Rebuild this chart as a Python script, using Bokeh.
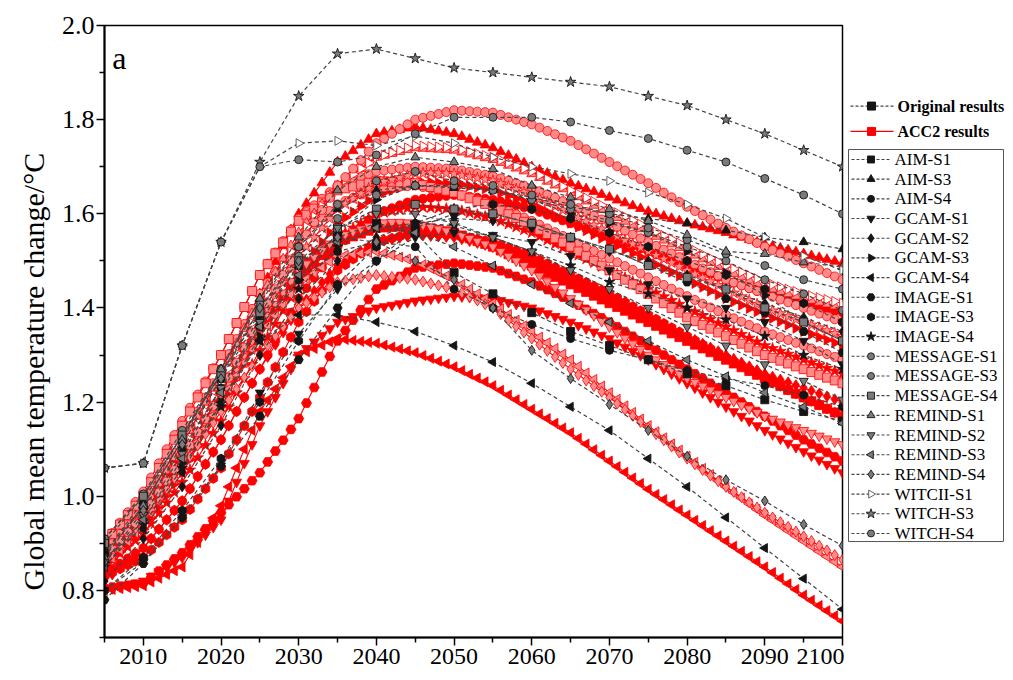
import math
from bokeh.plotting import figure
from bokeh.layouts import row
from bokeh.core.properties import value
from bokeh.models import Label, Title, FixedTicker, PrintfTickFormatter, Range1d
from bokeh.embed import file_html
from bokeh.resources import INLINE

YEARS_5 = list(range(2005, 2101, 5))
YEARS_1 = list(range(2005, 2101))

SCENARIOS = ["AIM-S1", "AIM-S3", "AIM-S4", "GCAM-S1", "GCAM-S2", "GCAM-S3", "GCAM-S4",
             "IMAGE-S1", "IMAGE-S3", "IMAGE-S4", "MESSAGE-S1", "MESSAGE-S3", "MESSAGE-S4",
             "REMIND-S1", "REMIND-S2", "REMIND-S3", "REMIND-S4", "WITCII-S1", "WITCH-S3", "WITCH-S4"]

# ---- Original results (every 5 years, 2005-2100) ----
O_AIM_S1 = [0.88, 0.98, 1.12, 1.25, 1.38, 1.49, 1.55, 1.58, 1.56, 1.475, 1.43, 1.39, 1.35, 1.32, 1.29, 1.26, 1.235, 1.205, 1.18, 1.16]
O_AIM_S3 = [0.88, 0.99, 1.13, 1.27, 1.42, 1.53, 1.61, 1.65, 1.66, 1.655, 1.65, 1.635, 1.615, 1.60, 1.59, 1.58, 1.565, 1.55, 1.54, 1.525]
O_AIM_S4 = [0.875, 0.975, 1.10, 1.23, 1.36, 1.46, 1.52, 1.54, 1.53, 1.44, 1.40, 1.365, 1.335, 1.31, 1.29, 1.267, 1.25, 1.235, 1.215, 1.19]
O_GCAM_S1 = [0.80, 0.86, 0.955, 1.065, 1.22, 1.345, 1.44, 1.50, 1.55, 1.56, 1.555, 1.54, 1.51, 1.48, 1.45, 1.42, 1.40, 1.37, 1.33, 1.28]
O_GCAM_S2 = [0.82, 0.91, 1.02, 1.15, 1.30, 1.42, 1.50, 1.55, 1.58, 1.59, 1.585, 1.57, 1.55, 1.52, 1.50, 1.47, 1.44, 1.41, 1.38, 1.35]
O_GCAM_S3 = [0.86, 0.95, 1.07, 1.20, 1.34, 1.46, 1.56, 1.63, 1.66, 1.66, 1.65, 1.63, 1.60, 1.58, 1.56, 1.52, 1.475, 1.427, 1.37, 1.33]
O_GCAM_S4 = [0.87, 0.93, 1.05, 1.20, 1.33, 1.385, 1.385, 1.37, 1.35, 1.32, 1.285, 1.24, 1.19, 1.14, 1.08, 1.02, 0.955, 0.89, 0.825, 0.76]
O_IMAGE_S1 = [0.78, 0.857, 0.955, 1.064, 1.17, 1.29, 1.40, 1.50, 1.57, 1.60, 1.60, 1.58, 1.55, 1.525, 1.49, 1.455, 1.42, 1.39, 1.35, 1.305]
O_IMAGE_S3 = [0.80, 0.87, 0.97, 1.08, 1.20, 1.33, 1.45, 1.53, 1.58, 1.61, 1.62, 1.61, 1.59, 1.56, 1.53, 1.50, 1.47, 1.44, 1.41, 1.37]
O_IMAGE_S4 = [0.85, 0.94, 1.06, 1.19, 1.33, 1.44, 1.53, 1.57, 1.58, 1.575, 1.55, 1.52, 1.49, 1.455, 1.43, 1.40, 1.375, 1.34, 1.30, 1.27]
O_MESSAGE_S1 = [0.91, 1.00, 1.13, 1.26, 1.40, 1.51, 1.59, 1.64, 1.66, 1.66, 1.65, 1.63, 1.61, 1.585, 1.56, 1.53, 1.50, 1.46, 1.43, 1.395]
O_MESSAGE_S3 = [0.91, 1.005, 1.14, 1.27, 1.41, 1.53, 1.62, 1.67, 1.69, 1.67, 1.66, 1.64, 1.62, 1.60, 1.57, 1.545, 1.515, 1.49, 1.46, 1.44]
O_MESSAGE_S4 = [0.90, 1.00, 1.13, 1.26, 1.39, 1.50, 1.57, 1.61, 1.62, 1.61, 1.60, 1.58, 1.55, 1.525, 1.49, 1.465, 1.44, 1.40, 1.37, 1.33]
O_REMIND_S1 = [0.87, 0.98, 1.12, 1.27, 1.42, 1.55, 1.65, 1.70, 1.72, 1.71, 1.695, 1.66, 1.635, 1.61, 1.585, 1.555, 1.52, 1.515, 1.497, 1.487]
O_REMIND_S2 = [0.86, 0.96, 1.09, 1.23, 1.37, 1.49, 1.57, 1.60, 1.60, 1.58, 1.55, 1.52, 1.48, 1.44, 1.40, 1.36, 1.32, 1.28, 1.245, 1.205]
O_REMIND_S3 = [0.85, 0.95, 1.08, 1.22, 1.36, 1.47, 1.54, 1.57, 1.56, 1.53, 1.49, 1.45, 1.41, 1.37, 1.33, 1.29, 1.255, 1.22, 1.19, 1.155]
O_REMIND_S4 = [0.86, 0.97, 1.11, 1.25, 1.40, 1.50, 1.55, 1.54, 1.50, 1.46, 1.40, 1.31, 1.25, 1.195, 1.14, 1.085, 1.035, 0.99, 0.94, 0.895]
O_WITCH_S1 = [1.06, 1.07, 1.32, 1.54, 1.70, 1.75, 1.755, 1.745, 1.765, 1.75, 1.72, 1.70, 1.685, 1.67, 1.645, 1.62, 1.59, 1.55, 1.51, 1.48]
O_WITCH_S3 = [1.06, 1.07, 1.32, 1.54, 1.71, 1.85, 1.94, 1.95, 1.93, 1.91, 1.90, 1.89, 1.88, 1.87, 1.85, 1.83, 1.80, 1.77, 1.735, 1.70]
O_WITCH_S4 = [1.06, 1.07, 1.32, 1.54, 1.70, 1.715, 1.71, 1.725, 1.77, 1.805, 1.805, 1.805, 1.795, 1.777, 1.76, 1.735, 1.71, 1.675, 1.64, 1.60]

# ---- ACC2 results (every year, 2005-2100) ----
A_AIM_S1 = [0.88, 0.898, 0.916, 0.934, 0.952, 0.97, 0.994, 1.018, 1.042, 1.066, 1.09, 1.116, 1.142, 1.168, 1.194,
            1.22, 1.248, 1.276, 1.304, 1.332, 1.36, 1.382, 1.404, 1.426, 1.448, 1.47, 1.484, 1.498, 1.512, 1.526,
            1.54, 1.546, 1.552, 1.558, 1.564, 1.57, 1.571, 1.572, 1.573, 1.574, 1.575, 1.572, 1.569, 1.566, 1.563,
            1.56, 1.554, 1.548, 1.542, 1.536, 1.53, 1.522, 1.514, 1.506, 1.498, 1.49, 1.482, 1.474, 1.466, 1.458,
            1.45, 1.442, 1.434, 1.426, 1.418, 1.41, 1.402, 1.394, 1.386, 1.378, 1.37, 1.362, 1.354, 1.346, 1.338,
            1.33, 1.322, 1.314, 1.306, 1.298, 1.29, 1.282, 1.274, 1.266, 1.258, 1.25, 1.242, 1.234, 1.226, 1.218,
            1.21, 1.202, 1.194, 1.186, 1.178, 1.17]
A_AIM_S3 = [0.88, 0.90, 0.92, 0.94, 0.96, 0.98, 1.006, 1.032, 1.058, 1.084, 1.11, 1.14, 1.17, 1.20, 1.23,
            1.26, 1.294, 1.328, 1.362, 1.396, 1.43, 1.464, 1.498, 1.532, 1.566, 1.60, 1.622, 1.644, 1.666, 1.688,
            1.71, 1.722, 1.734, 1.746, 1.758, 1.77, 1.773, 1.776, 1.779, 1.782, 1.785, 1.782, 1.779, 1.776, 1.773,
            1.77, 1.764, 1.758, 1.752, 1.746, 1.74, 1.732, 1.724, 1.716, 1.708, 1.70, 1.693, 1.686, 1.679, 1.672,
            1.665, 1.659, 1.653, 1.647, 1.641, 1.635, 1.629, 1.623, 1.617, 1.611, 1.605, 1.60, 1.595, 1.59, 1.585,
            1.58, 1.576, 1.572, 1.568, 1.564, 1.56, 1.555, 1.55, 1.545, 1.54, 1.535, 1.531, 1.527, 1.523, 1.519,
            1.515, 1.511, 1.507, 1.503, 1.499, 1.495]
A_AIM_S4 = [0.835, 0.846, 0.857, 0.868, 0.879, 0.89, 0.91, 0.93, 0.95, 0.97, 0.99, 1.016, 1.042, 1.068, 1.094,
            1.12, 1.15, 1.18, 1.21, 1.24, 1.27, 1.30, 1.33, 1.36, 1.39, 1.42, 1.442, 1.464, 1.486, 1.508,
            1.53, 1.544, 1.558, 1.572, 1.586, 1.60, 1.606, 1.612, 1.618, 1.624, 1.63, 1.632, 1.634, 1.636, 1.638,
            1.64, 1.638, 1.636, 1.634, 1.632, 1.63, 1.626, 1.622, 1.618, 1.614, 1.61, 1.604, 1.598, 1.592, 1.586,
            1.58, 1.574, 1.568, 1.562, 1.556, 1.55, 1.544, 1.538, 1.532, 1.526, 1.52, 1.514, 1.508, 1.502, 1.496,
            1.49, 1.484, 1.478, 1.472, 1.466, 1.46, 1.454, 1.448, 1.442, 1.436, 1.43, 1.426, 1.422, 1.418, 1.414,
            1.41, 1.406, 1.402, 1.398, 1.394, 1.39]
A_GCAM_S1 = [0.80, 0.804, 0.808, 0.812, 0.816, 0.82, 0.83, 0.84, 0.85, 0.86, 0.87, 0.886, 0.902, 0.918, 0.934,
             0.95, 0.99, 1.03, 1.07, 1.11, 1.15, 1.18, 1.21, 1.24, 1.27, 1.30, 1.314, 1.328, 1.342, 1.356,
             1.37, 1.376, 1.382, 1.388, 1.394, 1.40, 1.403, 1.406, 1.409, 1.412, 1.415, 1.417, 1.419, 1.421, 1.423,
             1.425, 1.424, 1.423, 1.422, 1.421, 1.42, 1.416, 1.412, 1.408, 1.404, 1.40, 1.394, 1.388, 1.382, 1.376,
             1.37, 1.363, 1.356, 1.349, 1.342, 1.335, 1.326, 1.317, 1.308, 1.299, 1.29, 1.28, 1.27, 1.26, 1.25,
             1.24, 1.23, 1.22, 1.21, 1.20, 1.19, 1.18, 1.17, 1.16, 1.15, 1.14, 1.131, 1.122, 1.113, 1.104,
             1.095, 1.086, 1.077, 1.068, 1.059, 1.05]
A_GCAM_S2 = [0.82, 0.834, 0.848, 0.862, 0.876, 0.89, 0.91, 0.93, 0.95, 0.97, 0.99, 1.016, 1.042, 1.068, 1.094,
             1.12, 1.15, 1.18, 1.21, 1.24, 1.27, 1.296, 1.322, 1.348, 1.374, 1.40, 1.418, 1.436, 1.454, 1.472,
             1.49, 1.50, 1.51, 1.52, 1.53, 1.54, 1.543, 1.546, 1.549, 1.552, 1.555, 1.554, 1.553, 1.552, 1.551,
             1.55, 1.546, 1.542, 1.538, 1.534, 1.53, 1.524, 1.518, 1.512, 1.506, 1.50, 1.492, 1.484, 1.476, 1.468,
             1.46, 1.452, 1.444, 1.436, 1.428, 1.42, 1.412, 1.404, 1.396, 1.388, 1.38, 1.372, 1.364, 1.356, 1.348,
             1.34, 1.332, 1.324, 1.316, 1.308, 1.30, 1.292, 1.284, 1.276, 1.268, 1.26, 1.254, 1.248, 1.242, 1.236,
             1.23, 1.224, 1.218, 1.212, 1.206, 1.20]
A_GCAM_S3 = [0.85, 0.866, 0.882, 0.898, 0.914, 0.93, 0.954, 0.978, 1.002, 1.026, 1.05, 1.078, 1.106, 1.134, 1.162,
             1.19, 1.22, 1.25, 1.28, 1.31, 1.34, 1.368, 1.396, 1.424, 1.452, 1.48, 1.50, 1.52, 1.54, 1.56,
             1.58, 1.592, 1.604, 1.616, 1.628, 1.64, 1.645, 1.65, 1.655, 1.66, 1.665, 1.666, 1.667, 1.666, 1.665,
             1.665, 1.662, 1.659, 1.656, 1.653, 1.65, 1.644, 1.638, 1.632, 1.626, 1.62, 1.612, 1.604, 1.596, 1.588,
             1.58, 1.572, 1.564, 1.556, 1.548, 1.54, 1.532, 1.524, 1.516, 1.508, 1.50, 1.492, 1.484, 1.476, 1.468,
             1.46, 1.452, 1.444, 1.436, 1.428, 1.42, 1.413, 1.406, 1.399, 1.392, 1.385, 1.378, 1.371, 1.364, 1.357,
             1.35, 1.344, 1.338, 1.332, 1.326, 1.32]
A_GCAM_S4 = [0.80, 0.802, 0.804, 0.806, 0.808, 0.81, 0.818, 0.826, 0.834, 0.842, 0.85, 0.876, 0.902, 0.928, 0.954,
             0.98, 1.02, 1.06, 1.10, 1.14, 1.18, 1.204, 1.228, 1.252, 1.276, 1.30, 1.307, 1.314, 1.321, 1.328,
             1.335, 1.333, 1.331, 1.329, 1.327, 1.325, 1.321, 1.317, 1.313, 1.309, 1.305, 1.299, 1.293, 1.287, 1.281,
             1.275, 1.267, 1.259, 1.251, 1.243, 1.235, 1.225, 1.215, 1.205, 1.195, 1.185, 1.175, 1.165, 1.155, 1.145,
             1.135, 1.123, 1.111, 1.099, 1.087, 1.075, 1.063, 1.051, 1.039, 1.027, 1.015, 1.004, 0.993, 0.982, 0.971,
             0.96, 0.949, 0.938, 0.927, 0.916, 0.905, 0.894, 0.883, 0.872, 0.861, 0.85, 0.838, 0.826, 0.814, 0.802,
             0.79, 0.779, 0.768, 0.757, 0.746, 0.735]
A_IMAGE_S1 = [0.805, 0.807, 0.809, 0.811, 0.813, 0.815, 0.828, 0.841, 0.854, 0.867, 0.88, 0.897, 0.914, 0.931, 0.948,
              0.965, 0.982, 0.999, 1.016, 1.033, 1.05, 1.073, 1.096, 1.119, 1.142, 1.165, 1.198, 1.231, 1.264, 1.297,
              1.33, 1.352, 1.374, 1.396, 1.418, 1.44, 1.449, 1.458, 1.467, 1.476, 1.485, 1.487, 1.489, 1.491, 1.493,
              1.495, 1.493, 1.491, 1.489, 1.487, 1.485, 1.479, 1.473, 1.467, 1.461, 1.455, 1.447, 1.439, 1.431, 1.423,
              1.415, 1.406, 1.397, 1.388, 1.379, 1.37, 1.36, 1.35, 1.34, 1.33, 1.32, 1.31, 1.30, 1.29, 1.28,
              1.27, 1.26, 1.25, 1.24, 1.23, 1.22, 1.21, 1.20, 1.19, 1.18, 1.17, 1.16, 1.15, 1.14, 1.13,
              1.12, 1.111, 1.102, 1.093, 1.084, 1.075]
A_IMAGE_S3 = [0.83, 0.838, 0.846, 0.854, 0.862, 0.87, 0.886, 0.902, 0.918, 0.934, 0.95, 0.972, 0.994, 1.016, 1.038,
              1.06, 1.09, 1.12, 1.15, 1.18, 1.21, 1.242, 1.274, 1.306, 1.338, 1.37, 1.392, 1.414, 1.436, 1.458,
              1.48, 1.492, 1.504, 1.516, 1.528, 1.54, 1.544, 1.548, 1.552, 1.556, 1.56, 1.559, 1.558, 1.557, 1.556,
              1.555, 1.552, 1.549, 1.546, 1.543, 1.54, 1.534, 1.528, 1.522, 1.516, 1.51, 1.502, 1.494, 1.486, 1.478,
              1.47, 1.462, 1.454, 1.446, 1.438, 1.43, 1.421, 1.412, 1.403, 1.394, 1.385, 1.376, 1.367, 1.358, 1.349,
              1.34, 1.331, 1.322, 1.313, 1.304, 1.295, 1.286, 1.277, 1.268, 1.259, 1.25, 1.242, 1.234, 1.226, 1.218,
              1.21, 1.202, 1.194, 1.186, 1.178, 1.17]
A_IMAGE_S4 = [0.85, 0.864, 0.878, 0.892, 0.906, 0.92, 0.942, 0.964, 0.986, 1.008, 1.03, 1.056, 1.082, 1.108, 1.134,
              1.16, 1.19, 1.22, 1.25, 1.28, 1.31, 1.338, 1.366, 1.394, 1.422, 1.45, 1.47, 1.49, 1.51, 1.53,
              1.55, 1.56, 1.57, 1.58, 1.59, 1.60, 1.603, 1.606, 1.609, 1.612, 1.615, 1.614, 1.613, 1.612, 1.611,
              1.61, 1.606, 1.602, 1.598, 1.594, 1.59, 1.584, 1.578, 1.572, 1.566, 1.56, 1.552, 1.544, 1.536, 1.528,
              1.52, 1.512, 1.504, 1.496, 1.488, 1.48, 1.472, 1.464, 1.456, 1.448, 1.44, 1.432, 1.424, 1.416, 1.408,
              1.40, 1.392, 1.384, 1.376, 1.368, 1.36, 1.352, 1.344, 1.336, 1.328, 1.32, 1.314, 1.308, 1.302, 1.296,
              1.29, 1.284, 1.278, 1.272, 1.266, 1.26]
A_MESSAGE_S1 = [0.88, 0.90, 0.92, 0.94, 0.96, 0.98, 1.008, 1.036, 1.064, 1.092, 1.12, 1.15, 1.18, 1.21, 1.24,
                1.27, 1.302, 1.334, 1.366, 1.398, 1.43, 1.454, 1.478, 1.502, 1.526, 1.55, 1.564, 1.578, 1.592, 1.606,
                1.62, 1.627, 1.634, 1.641, 1.648, 1.655, 1.656, 1.657, 1.658, 1.659, 1.66, 1.657, 1.654, 1.651, 1.648,
                1.645, 1.64, 1.635, 1.63, 1.625, 1.62, 1.613, 1.606, 1.599, 1.592, 1.585, 1.577, 1.569, 1.561, 1.553,
                1.545, 1.537, 1.529, 1.521, 1.513, 1.505, 1.497, 1.489, 1.481, 1.473, 1.465, 1.457, 1.449, 1.441, 1.433,
                1.425, 1.417, 1.409, 1.401, 1.393, 1.385, 1.378, 1.371, 1.364, 1.357, 1.35, 1.344, 1.338, 1.332, 1.326,
                1.32, 1.314, 1.308, 1.302, 1.296, 1.29]
A_MESSAGE_S3 = [0.90, 0.922, 0.944, 0.966, 0.988, 1.01, 1.04, 1.07, 1.10, 1.13, 1.16, 1.188, 1.216, 1.244, 1.272,
                1.30, 1.334, 1.368, 1.402, 1.436, 1.47, 1.494, 1.518, 1.542, 1.566, 1.59, 1.604, 1.618, 1.632, 1.646,
                1.66, 1.666, 1.672, 1.678, 1.684, 1.69, 1.692, 1.694, 1.696, 1.698, 1.70, 1.699, 1.698, 1.697, 1.696,
                1.695, 1.692, 1.689, 1.686, 1.683, 1.68, 1.675, 1.67, 1.665, 1.66, 1.655, 1.648, 1.641, 1.634, 1.627,
                1.62, 1.612, 1.604, 1.596, 1.588, 1.58, 1.572, 1.564, 1.556, 1.548, 1.54, 1.532, 1.524, 1.516, 1.508,
                1.50, 1.492, 1.484, 1.476, 1.468, 1.46, 1.454, 1.448, 1.442, 1.436, 1.43, 1.424, 1.418, 1.412, 1.406,
                1.40, 1.394, 1.388, 1.382, 1.376, 1.37]
A_MESSAGE_S4 = [0.90, 0.92, 0.94, 0.96, 0.98, 1.00, 1.03, 1.06, 1.09, 1.12, 1.15, 1.18, 1.21, 1.24, 1.27,
                1.30, 1.334, 1.368, 1.402, 1.436, 1.47, 1.493, 1.516, 1.539, 1.562, 1.585, 1.598, 1.611, 1.624, 1.637,
                1.65, 1.654, 1.658, 1.662, 1.666, 1.67, 1.669, 1.668, 1.667, 1.666, 1.665, 1.661, 1.657, 1.653, 1.649,
                1.645, 1.639, 1.633, 1.627, 1.621, 1.615, 1.607, 1.599, 1.591, 1.583, 1.575, 1.566, 1.557, 1.548, 1.539,
                1.53, 1.52, 1.51, 1.50, 1.49, 1.48, 1.47, 1.46, 1.45, 1.44, 1.43, 1.42, 1.41, 1.40, 1.39,
                1.38, 1.372, 1.364, 1.356, 1.348, 1.34, 1.332, 1.324, 1.316, 1.308, 1.30, 1.294, 1.288, 1.282, 1.276,
                1.27, 1.264, 1.258, 1.252, 1.246, 1.24]
A_REMIND_S1 = [0.86, 0.882, 0.904, 0.926, 0.948, 0.97, 0.998, 1.026, 1.054, 1.082, 1.11, 1.14, 1.17, 1.20, 1.23,
               1.26, 1.292, 1.324, 1.356, 1.388, 1.42, 1.448, 1.476, 1.504, 1.532, 1.56, 1.58, 1.60, 1.62, 1.64,
               1.66, 1.672, 1.684, 1.696, 1.708, 1.72, 1.724, 1.728, 1.732, 1.736, 1.74, 1.739, 1.738, 1.737, 1.736,
               1.735, 1.731, 1.727, 1.723, 1.719, 1.715, 1.709, 1.703, 1.697, 1.691, 1.685, 1.677, 1.669, 1.661, 1.653,
               1.645, 1.636, 1.627, 1.618, 1.609, 1.60, 1.592, 1.584, 1.576, 1.568, 1.56, 1.552, 1.544, 1.536, 1.528,
               1.52, 1.512, 1.504, 1.496, 1.488, 1.48, 1.473, 1.466, 1.459, 1.452, 1.445, 1.44, 1.435, 1.43, 1.425,
               1.42, 1.416, 1.412, 1.408, 1.404, 1.40]
A_REMIND_S2 = [0.86, 0.878, 0.896, 0.914, 0.932, 0.95, 0.974, 0.998, 1.022, 1.046, 1.07, 1.098, 1.126, 1.154, 1.182,
               1.21, 1.24, 1.27, 1.30, 1.33, 1.36, 1.384, 1.408, 1.432, 1.456, 1.48, 1.494, 1.508, 1.522, 1.536,
               1.55, 1.556, 1.562, 1.568, 1.574, 1.58, 1.581, 1.582, 1.582, 1.581, 1.58, 1.576, 1.572, 1.568, 1.564,
               1.56, 1.554, 1.548, 1.542, 1.536, 1.53, 1.52, 1.51, 1.50, 1.49, 1.48, 1.468, 1.456, 1.444, 1.432,
               1.42, 1.408, 1.396, 1.384, 1.372, 1.36, 1.348, 1.336, 1.324, 1.312, 1.30, 1.29, 1.28, 1.27, 1.26,
               1.25, 1.242, 1.234, 1.226, 1.218, 1.21, 1.202, 1.194, 1.186, 1.178, 1.17, 1.164, 1.158, 1.152, 1.146,
               1.14, 1.134, 1.128, 1.122, 1.116, 1.11]
A_REMIND_S3 = [0.85, 0.868, 0.886, 0.904, 0.922, 0.94, 0.964, 0.988, 1.012, 1.036, 1.06, 1.088, 1.116, 1.144, 1.172,
               1.20, 1.228, 1.256, 1.284, 1.312, 1.34, 1.362, 1.384, 1.406, 1.428, 1.45, 1.462, 1.474, 1.486, 1.498,
               1.51, 1.512, 1.514, 1.516, 1.518, 1.52, 1.516, 1.512, 1.508, 1.504, 1.50, 1.492, 1.484, 1.476, 1.468,
               1.46, 1.45, 1.44, 1.43, 1.42, 1.41, 1.398, 1.386, 1.374, 1.362, 1.35, 1.338, 1.326, 1.314, 1.302,
               1.29, 1.276, 1.262, 1.248, 1.234, 1.22, 1.206, 1.192, 1.178, 1.164, 1.15, 1.137, 1.124, 1.111, 1.098,
               1.085, 1.072, 1.059, 1.046, 1.033, 1.02, 1.008, 0.996, 0.984, 0.972, 0.96, 0.949, 0.938, 0.927, 0.916,
               0.905, 0.894, 0.883, 0.872, 0.861, 0.85]
A_REMIND_S4 = [0.86, 0.878, 0.896, 0.914, 0.932, 0.95, 0.972, 0.994, 1.016, 1.038, 1.06, 1.084, 1.108, 1.132, 1.156,
               1.18, 1.204, 1.228, 1.252, 1.276, 1.30, 1.32, 1.34, 1.36, 1.38, 1.40, 1.411, 1.422, 1.433, 1.444,
               1.455, 1.458, 1.461, 1.464, 1.467, 1.47, 1.468, 1.466, 1.464, 1.462, 1.46, 1.456, 1.452, 1.448, 1.444,
               1.44, 1.432, 1.424, 1.416, 1.408, 1.40, 1.387, 1.374, 1.361, 1.348, 1.335, 1.322, 1.309, 1.296, 1.283,
               1.27, 1.258, 1.246, 1.234, 1.222, 1.21, 1.197, 1.184, 1.171, 1.158, 1.145, 1.132, 1.119, 1.106, 1.093,
               1.08, 1.068, 1.056, 1.044, 1.032, 1.02, 1.009, 0.998, 0.987, 0.976, 0.965, 0.955, 0.945, 0.935, 0.925,
               0.915, 0.905, 0.895, 0.885, 0.875, 0.865]
A_WITCH_S1 = [0.87, 0.888, 0.906, 0.924, 0.942, 0.96, 0.986, 1.012, 1.038, 1.064, 1.09, 1.12, 1.15, 1.18, 1.21,
              1.24, 1.272, 1.304, 1.336, 1.368, 1.40, 1.43, 1.46, 1.49, 1.52, 1.55, 1.572, 1.594, 1.616, 1.638,
              1.66, 1.672, 1.684, 1.696, 1.708, 1.72, 1.725, 1.73, 1.735, 1.74, 1.745, 1.744, 1.743, 1.742, 1.741,
              1.74, 1.736, 1.732, 1.728, 1.724, 1.72, 1.714, 1.708, 1.702, 1.696, 1.69, 1.682, 1.674, 1.666, 1.658,
              1.65, 1.642, 1.634, 1.626, 1.618, 1.61, 1.602, 1.594, 1.586, 1.578, 1.57, 1.562, 1.554, 1.546, 1.538,
              1.53, 1.522, 1.514, 1.506, 1.498, 1.49, 1.483, 1.476, 1.469, 1.462, 1.455, 1.45, 1.445, 1.44, 1.435,
              1.43, 1.426, 1.422, 1.418, 1.414, 1.41]
A_WITCH_S3 = [0.87, 0.888, 0.906, 0.924, 0.942, 0.96, 0.984, 1.008, 1.032, 1.056, 1.08, 1.108, 1.136, 1.164, 1.192,
              1.22, 1.25, 1.28, 1.31, 1.34, 1.37, 1.398, 1.426, 1.454, 1.482, 1.51, 1.53, 1.55, 1.57, 1.59,
              1.61, 1.621, 1.632, 1.643, 1.654, 1.665, 1.669, 1.673, 1.677, 1.681, 1.685, 1.686, 1.687, 1.687, 1.686,
              1.685, 1.682, 1.679, 1.676, 1.673, 1.67, 1.664, 1.658, 1.652, 1.646, 1.64, 1.632, 1.624, 1.616, 1.608,
              1.60, 1.592, 1.584, 1.576, 1.568, 1.56, 1.552, 1.544, 1.536, 1.528, 1.52, 1.512, 1.504, 1.496, 1.488,
              1.48, 1.472, 1.464, 1.456, 1.448, 1.44, 1.432, 1.424, 1.416, 1.408, 1.40, 1.394, 1.388, 1.382, 1.376,
              1.37, 1.364, 1.358, 1.352, 1.346, 1.34]
A_WITCH_S4 = [0.87, 0.888, 0.906, 0.924, 0.942, 0.96, 0.984, 1.008, 1.032, 1.056, 1.08, 1.108, 1.136, 1.164, 1.192,
              1.22, 1.252, 1.284, 1.316, 1.348, 1.38, 1.41, 1.44, 1.47, 1.50, 1.53, 1.556, 1.582, 1.608, 1.634,
              1.66, 1.678, 1.696, 1.714, 1.732, 1.75, 1.76, 1.77, 1.78, 1.79, 1.80, 1.804, 1.808, 1.812, 1.816,
              1.82, 1.819, 1.818, 1.817, 1.816, 1.815, 1.81, 1.805, 1.80, 1.795, 1.79, 1.783, 1.776, 1.769, 1.762,
              1.755, 1.746, 1.737, 1.728, 1.719, 1.71, 1.701, 1.692, 1.683, 1.674, 1.665, 1.655, 1.645, 1.635, 1.625,
              1.615, 1.606, 1.597, 1.588, 1.579, 1.57, 1.562, 1.554, 1.546, 1.538, 1.53, 1.523, 1.516, 1.509, 1.502,
              1.495, 1.488, 1.481, 1.474, 1.467, 1.46]

ORIGINAL = [O_AIM_S1, O_AIM_S3, O_AIM_S4, O_GCAM_S1, O_GCAM_S2, O_GCAM_S3, O_GCAM_S4,
            O_IMAGE_S1, O_IMAGE_S3, O_IMAGE_S4, O_MESSAGE_S1, O_MESSAGE_S3, O_MESSAGE_S4,
            O_REMIND_S1, O_REMIND_S2, O_REMIND_S3, O_REMIND_S4, O_WITCH_S1, O_WITCH_S3, O_WITCH_S4]
ACC2 = [A_AIM_S1, A_AIM_S3, A_AIM_S4, A_GCAM_S1, A_GCAM_S2, A_GCAM_S3, A_GCAM_S4,
        A_IMAGE_S1, A_IMAGE_S3, A_IMAGE_S4, A_MESSAGE_S1, A_MESSAGE_S3, A_MESSAGE_S4,
        A_REMIND_S1, A_REMIND_S2, A_REMIND_S3, A_REMIND_S4, A_WITCH_S1, A_WITCH_S3, A_WITCH_S4]

# marker styling per scenario: (marker, angle, fill kind, size)
R = math.pi / 2
STYLE = [("square", 0, "full", 8), ("triangle", 0, "full", 9), ("circle", 0, "full", 8),
         ("inverted_triangle", 0, "full", 9), ("diamond", 0, "full", 10), ("triangle", -R, "full", 9),
         ("triangle", R, "full", 9), ("hex", 0, "full", 9), ("hex", R, "full", 9), ("star", 0, "full", 11),
         ("circle", 0, "half", 8), ("circle", 0, "half", 8), ("square", 0, "half", 8),
         ("triangle", 0, "half", 9), ("inverted_triangle", 0, "half", 9), ("triangle", R, "half", 9),
         ("diamond", 0, "half", 10), ("triangle", -R, "open", 9), ("star", 0, "half", 11), ("circle", 0, "half", 8)]

SERIF = "Liberation Serif"
RED = "#ff0000"
RED_FILL = {"full": "#ff0000", "half": "#ff8a8a", "open": "white"}
BLK_FILL = {"full": "#151515", "half": "#7a7a7a", "open": "white"}
BLK_LINE = {"full": "#151515", "half": "#151515", "open": "#555555"}

H = 676
p = figure(width=844, height=H, x_range=(2005, 2100), y_range=(0.7, 2.0),
           output_backend="svg", toolbar_location=None,
           min_border_left=104, min_border_right=2, min_border_top=25, min_border_bottom=39)
p.xgrid.visible = False
p.ygrid.visible = False
p.outline_line_color = "black"
p.outline_line_width = 1.5
p.background_fill_color = "white"

# ACC2 (red) first
for vals, (mk, ang, kind, sz) in zip(ACC2, STYLE):
    n = min(len(YEARS_1), len(vals))
    p.line(YEARS_1[:n], vals[:n], line_color=RED, line_width=1.1)
    p.scatter(YEARS_1[:n], vals[:n], marker=mk, angle=ang, size=sz + 1,
              fill_color=RED_FILL[kind], line_color=RED, line_width=0.8)

for vals, (mk, ang, kind, sz) in zip(ORIGINAL, STYLE):
    n = min(len(YEARS_5), len(vals))
    p.line(YEARS_5[:n], vals[:n], line_color="#444444", line_width=1.2, line_dash="4 3")
    p.scatter(YEARS_5[:n], vals[:n], marker=mk, angle=ang, size=sz,
              fill_color=BLK_FILL[kind], line_color=BLK_LINE[kind], line_width=0.9)

# axes
p.xaxis.ticker = FixedTicker(ticks=list(range(2010, 2101, 10)), minor_ticks=list(range(2005, 2100, 10)))
p.yaxis.ticker = FixedTicker(ticks=[0.8, 1.0, 1.2, 1.4, 1.6, 1.8, 2.0], minor_ticks=[0.7, 0.9, 1.1, 1.3, 1.5, 1.7, 1.9])
p.yaxis.formatter = PrintfTickFormatter(format="%.1f")
for ax in (p.xaxis[0], p.yaxis[0]):
    ax.axis_line_width = 2
    ax.axis_line_color = "black"
    ax.major_tick_line_width = 1.5
    ax.minor_tick_line_width = 1.5
    ax.major_tick_in = 0
    ax.minor_tick_in = 0
    ax.major_tick_out = 8
    ax.minor_tick_out = 5
    ax.major_label_text_font = SERIF
    ax.major_label_text_color = "black"
p.xaxis.major_label_text_font_size = "24px"
p.xaxis.major_label_standoff = 3
p.yaxis.major_label_text_font_size = "26px"
p.yaxis.major_label_standoff = 2

p.add_layout(Title(text="Global mean temperature change/°C", align="left", offset=47, standoff=18,
                   text_font=SERIF, text_font_size="30px", text_font_style="normal",
                   text_color="black"), "left")

p.add_layout(Label(x=2006.0, y=1.93, text="a", text_font=SERIF, text_font_size="32px",
                   text_color="black", text_baseline="alphabetic"))

# ---- legend panel (separate figure to the right of the plot, pixel coordinates) ----
lf = figure(width=161, height=H, x_range=Range1d(0, 161), y_range=Range1d(H, 0),
            x_axis_type=None, y_axis_type=None, output_backend="svg", toolbar_location=None, min_border=0)
lf.xgrid.visible = False
lf.ygrid.visible = False
lf.outline_line_color = None

# top two keys (no box)
TOP_Y = [89, 117]
lf.segment(x0=[6], y0=[TOP_Y[0]], x1=[49], y1=[TOP_Y[0]], line_color="#444444", line_width=1.2, line_dash="3 2")
lf.scatter([27], [TOP_Y[0]], marker="square", size=8, fill_color="#151515", line_color="#151515")
lf.segment(x0=[6], y0=[TOP_Y[1]], x1=[49], y1=[TOP_Y[1]], line_color=RED, line_width=1.3)
lf.scatter([27], [TOP_Y[1]], marker="square", size=8, fill_color=RED, line_color=RED)
lf.text(x=[53, 53], y=TOP_Y, text=["Original results", "ACC2 results"], text_font=value(SERIF),
        text_font_size="16px", text_font_style="bold", text_baseline="middle", text_color="black")

# boxed key list
lf.quad(left=[4], right=[159], top=[137], bottom=[570], fill_color="white",
        line_color="#555555", line_width=1)
rows_y = [148 + i * 21.74 for i in range(len(SCENARIOS))]
lf.segment(x0=[7] * len(rows_y), y0=rows_y, x1=[46] * len(rows_y), y1=rows_y,
           line_color="#444444", line_width=1.1, line_dash="3 2")
for yy, (mk, ang, kind, sz) in zip(rows_y, STYLE):
    lf.scatter([26.5], [yy], marker=mk, angle=ang, size=sz - 1,
               fill_color=BLK_FILL[kind], line_color=BLK_LINE[kind], line_width=0.9)
lf.text(x=[50] * len(rows_y), y=rows_y, text=SCENARIOS, text_font=value(SERIF),
        text_font_size="17px", text_baseline="middle", text_color="black")

layout = row(p, lf)
open("out.html", "w").write(file_html(layout, INLINE))
